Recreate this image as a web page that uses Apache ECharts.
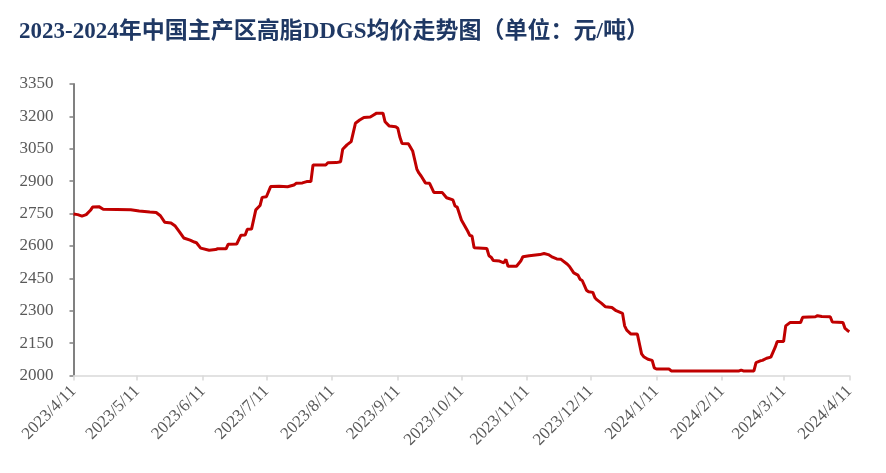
<!DOCTYPE html>
<html>
<head>
<meta charset="utf-8">
<script src="https://cdn.jsdelivr.net/npm/echarts@6/dist/echarts.min.js"></script>
<style>
html,body{margin:0;padding:0;background:#fff;}
#chart{width:886px;height:473px;}
</style>
</head>
<body>
<div id="chart"></div>
<script>
var titleText = '2023-2024年中国主产区高脂DDGS均价走势图（单位：元/吨）';
var startDate = '2023/4/11';
var endDate = '2024/4/11';
var yTicks = [2000, 2150, 2300, 2450, 2600, 2750, 2900, 3050, 3200, 3350];

var obsDates = [
'2023/4/11','2023/4/13','2023/4/15','2023/4/17','2023/4/19','2023/4/20','2023/4/23','2023/4/25',
'2023/5/8','2023/5/12','2023/5/17','2023/5/20','2023/5/22','2023/5/24','2023/5/27','2023/5/29','2023/5/31',
'2023/6/2','2023/6/5','2023/6/7','2023/6/8','2023/6/10','2023/6/14','2023/6/17','2023/6/18','2023/6/22','2023/6/23','2023/6/27','2023/6/29',
'2023/7/1','2023/7/2','2023/7/4','2023/7/6','2023/7/8','2023/7/9','2023/7/11','2023/7/13','2023/7/17','2023/7/21','2023/7/24','2023/7/25','2023/7/28','2023/7/30',
'2023/8/1','2023/8/2','2023/8/8','2023/8/9','2023/8/13','2023/8/15','2023/8/16','2023/8/18','2023/8/20','2023/8/22','2023/8/24','2023/8/26','2023/8/29','2023/8/30',
'2023/9/1','2023/9/4','2023/9/5','2023/9/7','2023/9/10','2023/9/11','2023/9/12','2023/9/13','2023/9/16','2023/9/18','2023/9/19','2023/9/20','2023/9/21','2023/9/22','2023/9/24','2023/9/26','2023/9/28',
'2023/10/2','2023/10/4','2023/10/7','2023/10/8','2023/10/9','2023/10/11','2023/10/14','2023/10/15','2023/10/16','2023/10/17','2023/10/23','2023/10/24','2023/10/25','2023/10/26','2023/10/29','2023/10/31',
'2023/11/1','2023/11/2','2023/11/6','2023/11/8','2023/11/9','2023/11/12','2023/11/17','2023/11/19','2023/11/21','2023/11/23','2023/11/25','2023/11/27','2023/11/30',
'2023/12/1','2023/12/3','2023/12/5','2023/12/6','2023/12/7','2023/12/9','2023/12/10','2023/12/12','2023/12/13','2023/12/14','2023/12/16','2023/12/18','2023/12/21','2023/12/23','2023/12/26','2023/12/27','2023/12/28','2023/12/30',
'2024/1/2','2024/1/4','2024/1/5','2024/1/7','2024/1/9','2024/1/10','2024/1/11','2024/1/17','2024/1/18',
'2024/2/19','2024/2/20','2024/2/21','2024/2/26','2024/2/27','2024/2/29',
'2024/3/1','2024/3/3','2024/3/5','2024/3/7','2024/3/8','2024/3/11','2024/3/12','2024/3/14','2024/3/19','2024/3/20','2024/3/26','2024/3/27','2024/3/29',
'2024/4/2','2024/4/3','2024/4/8','2024/4/9','2024/4/10','2024/4/11'
];
var obsValues = [
2748,2745,2738,2745,2765,2780,2782,2770,
2768,2762,2757,2755,2740,2710,2706,2692,2665,
2637,2627,2618,2615,2590,2580,2583,2587,2587,2608,2609,2650,
2651,2677,2678,2767,2787,2825,2828,2875,2877,2874,2882,2890,2892,2898,
2898,2975,2975,2985,2986,2990,3048,3068,3083,3168,3183,3195,3197,3203,
3215,3215,3175,3155,3152,3145,3103,3075,3073,3040,2998,2955,2937,2924,2892,2890,2848,
2847,2823,2813,2785,2780,2720,2668,2648,2646,2592,2588,2555,2548,2533,2530,2522,
2538,2506,2506,2530,2550,2555,2560,2565,2560,2548,2540,2538,2515,
2505,2475,2465,2445,2440,2395,2388,2385,2360,2350,2335,2318,2315,2300,2288,2230,2210,2192,
2192,2100,2087,2075,2070,2035,2030,2030,2021,
2021,2025,2021,2021,2060,2068,
2070,2080,2085,2130,2157,2157,2230,2245,2245,2270,2272,2277,2273,
2272,2248,2246,2218,2210,2203
];

// daily category list
function parseD(s){var p=s.split('/');return Date.UTC(+p[0],+p[1]-1,+p[2]);}
function fmt(t){var d=new Date(t);return d.getUTCFullYear()+'/'+(d.getUTCMonth()+1)+'/'+d.getUTCDate();}
var categories = [];
for (var t = parseD(startDate); t <= parseD(endDate); t += 86400000) categories.push(fmt(t));
var lookup = {};
obsDates.forEach(function(d,i){lookup[d]=obsValues[i];});
var seriesData = categories.map(function(c){return lookup.hasOwnProperty(c)?lookup[c]:null;});

function isMonthMark(index, value){ return /\/11$/.test(value); }

var chart = echarts.init(document.getElementById('chart'), null, {renderer:'canvas'});
chart.setOption({
  animation:false,
  backgroundColor:'#ffffff',
  title:{
    text:titleText, left:14, top:16,
    textStyle:{fontFamily:'"Liberation Serif","Noto Sans CJK SC",serif',fontWeight:'bold',fontSize:23,color:'#1F3864'}
  },
  grid:{left:73.5, right:36.7, top:84, bottom:97.5},
  xAxis:{
    type:'category', data:categories, boundaryGap:false,
    axisLine:{lineStyle:{color:'#D9D9D9',width:1.5}},
    axisTick:{show:true,interval:isMonthMark,length:5,lineStyle:{color:'#D9D9D9',width:1.5}},
    axisLabel:{interval:isMonthMark,rotate:45,margin:13,color:'#595959',fontSize:17,fontFamily:'"Liberation Serif",serif'},
    splitLine:{show:false}
  },
  yAxis:{
    type:'value', min:yTicks[0], max:yTicks[yTicks.length-1], interval:150,
    axisLine:{show:true,lineStyle:{color:'#808080',width:2}},
    axisTick:{show:true,length:4,lineStyle:{color:'#808080',width:1.5}},
    axisLabel:{margin:20,color:'#595959',fontSize:17,fontFamily:'"Liberation Serif",serif',formatter:function(v){return String(v);}},
    splitLine:{show:false}
  },
  series:[{
    type:'line', data:seriesData, connectNulls:true, showSymbol:false, symbol:'none',
    lineStyle:{color:'#C00000',width:3}, itemStyle:{color:'#C00000'}
  }]
});
</script>
</body>
</html>
